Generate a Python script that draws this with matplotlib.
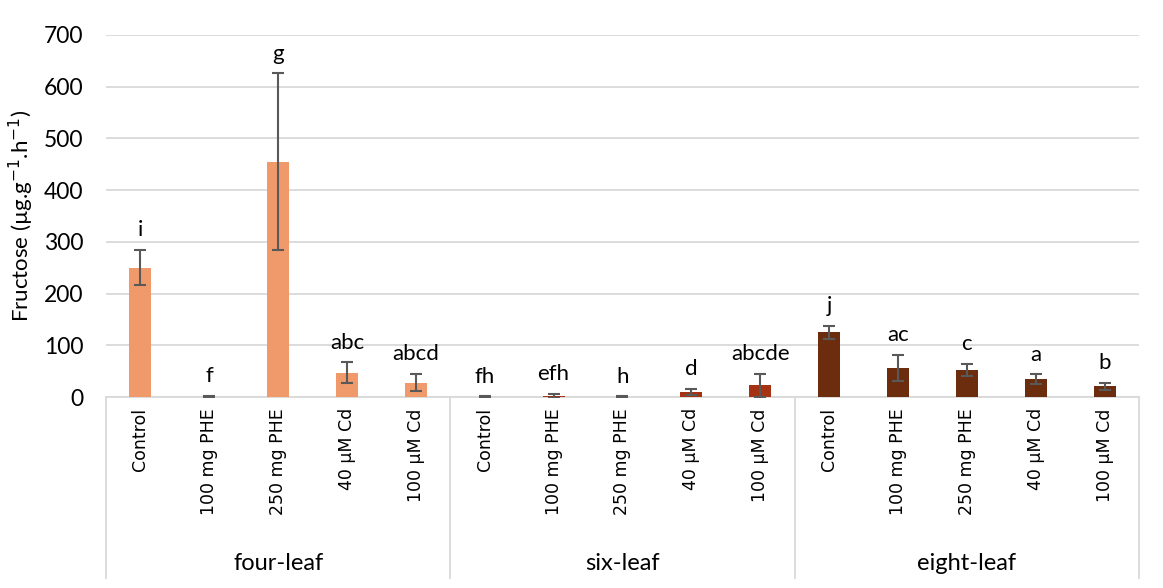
import numpy as np
import matplotlib.pyplot as plt
from matplotlib.transforms import blended_transform_factory

## DATA
stages = ["four-leaf", "six-leaf", "eight-leaf"]
treatments = ["Control", "100 mg PHE", "250 mg PHE", "40 µM Cd", "100 µM Cd"]

four_leaf = [250, 1, 455, 47, 28]
four_err = [34, 1, 171, 20, 17]
six_leaf = [1, 2, 1, 10, 23]
six_err = [0.5, 4, 0.5, 5.5, 22]
eight_leaf = [125, 56, 52, 35, 21]
eight_err = [13, 25, 12, 9, 6.5]

letters_four = ["i", "f", "g", "abc", "abcd"]
letters_six = ["fh", "efh", "h", "d", "abcde"]
letters_eight = ["j", "ac", "c", "a", "b"]

colors = ["#F0996A", "#A53212", "#6B2D0E"]

means = [four_leaf, six_leaf, eight_leaf]
errs = [four_err, six_err, eight_err]
letters = [letters_four, letters_six, letters_eight]

## PLOT
fig = plt.figure(figsize=(11.63, 5.88), dpi=100)
ax = fig.add_axes([0.0911, 0.3248, 0.9794 - 0.0911, 0.9405 - 0.3248])

n = len(treatments)
for g in range(len(stages)):
    x = np.arange(n) + g * n
    ax.bar(x, means[g], width=0.32, color=colors[g], zorder=3)
    ax.errorbar(x, means[g], yerr=errs[g], fmt='none', ecolor='#595959',
                elinewidth=1.5, capsize=4.3, capthick=1.5, zorder=4)
    for xi, m, e, lab in zip(x, means[g], errs[g], letters[g]):
        ax.annotate(lab, (xi, m + e), xytext=(0, 7), textcoords='offset points',
                    ha='center', va='bottom', fontsize=16, family='Lato',
                    color='#000000')

ax.set_xlim(-0.5, 3 * n - 0.5)
ax.set_ylim(0, 700)
ax.set_yticks(np.arange(0, 701, 100))
ax.tick_params(axis='y', length=0, labelsize=16.5, pad=16)
for t in ax.get_yticklabels():
    t.set_family('Lato')
ax.yaxis.grid(True, color='#D9D9D9', linewidth=1.3, zorder=0)
ax.set_axisbelow(True)

ax.set_xticks(np.arange(3 * n))
ax.set_xticklabels(treatments * 3, rotation=90, fontsize=12.5, family='DejaVu Sans')
ax.tick_params(axis='x', length=0, pad=8)

for s in ['top', 'right', 'left']:
    ax.spines[s].set_visible(False)
ax.spines['bottom'].set_color('#D9D9D9')
ax.spines['bottom'].set_linewidth(1.3)

ax.set_ylabel(r'Fructose (µg.g$^{-1}$.h$^{-1}$)', fontsize=16, family='Lato', labelpad=6)

# group separators and group labels below the axis
trans = blended_transform_factory(ax.transData, ax.transAxes)
for b in np.arange(len(stages) + 1) * n - 0.5:
    ax.plot([b, b], [0, -0.5], transform=trans, color='#D9D9D9', lw=1.3, clip_on=False)
for g, name in enumerate(stages):
    ax.text(g * n + (n - 1) / 2, -0.46, name, transform=trans, ha='center', va='center',
            fontsize=17, family='Lato')

fig.savefig('out.png', dpi=100)
